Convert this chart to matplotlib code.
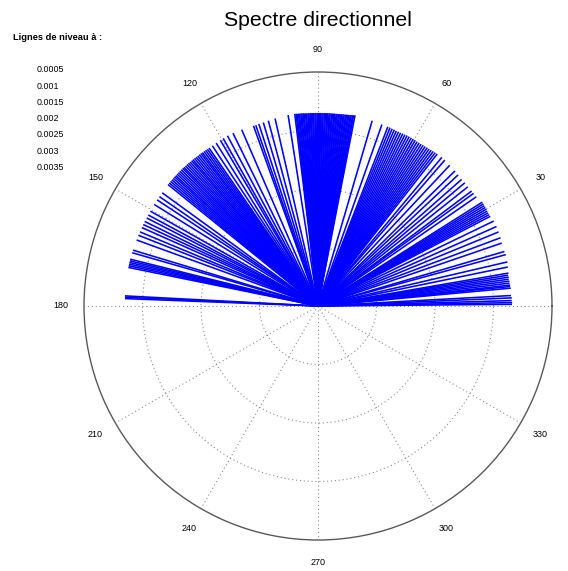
import numpy as np
import matplotlib
matplotlib.use("Agg")
import matplotlib.pyplot as plt

plt.rcParams['font.family'] = ['Liberation Sans', 'DejaVu Sans']

# ---------------- data ----------------
title = "Spectre directionnel"
legend_title = "Lignes de niveau à :"
levels = ["0.0005", "0.001", "0.0015", "0.002", "0.0025", "0.003", "0.0035"]
theta_labels = [30, 60, 90, 120, 150, 180, 210, 240, 270, 300, 330]
r_rings = [0.25, 0.5, 0.75]

# spoke directions (degrees) and lengths (fraction of outer circle), by sector
angles_east = [0.5, 1.0, 1.6, 2.4, 3.1, 5.3, 5.8, 6.2, 6.8, 7.4, 8.0, 8.6, 9.2, 9.8,
               11.6, 13.1, 15.3, 16.3, 18.9, 20.5, 22.3, 24.0, 25.8, 27.5, 28.1,
               28.7, 29.3, 29.9, 30.5, 31.1, 31.7, 32.3, 34.6]
radii_east = [0.829, 0.830, 0.828, 0.829, 0.826, 0.827, 0.825, 0.826, 0.824, 0.825,
              0.823, 0.824, 0.823, 0.826, 0.828, 0.831, 0.832, 0.830, 0.830, 0.833,
              0.834, 0.835, 0.834, 0.830, 0.829, 0.829, 0.829, 0.830, 0.830, 0.830,
              0.831, 0.831, 0.822]

angles_ne = [35.9, 36.8, 38.5, 40.0, 41.4, 43.1, 44.6, 46.9, 49.0, 50.2, 51.9, 52.6,
             53.3, 54.0, 54.7, 55.4, 56.1, 56.8, 57.5, 58.2, 58.9, 59.6, 60.3, 61.0,
             61.7, 62.4, 63.1, 63.8, 64.5, 65.2, 65.9, 66.6, 67.3, 68.0, 68.7, 70.6,
             73.7]
radii_ne = [0.821, 0.820, 0.818, 0.819, 0.818, 0.820, 0.822, 0.824, 0.826, 0.827,
            0.826, 0.825, 0.824, 0.823, 0.822, 0.822, 0.821, 0.821, 0.820, 0.820,
            0.820, 0.821, 0.821, 0.822, 0.822, 0.822, 0.821, 0.821, 0.820, 0.820,
            0.820, 0.821, 0.821, 0.822, 0.822, 0.822, 0.825]

angles_north = [79.0, 79.4, 79.7, 80.1, 80.4, 80.8, 81.1, 81.5, 81.8, 82.2, 82.5,
                82.9, 83.2, 83.6, 83.9, 84.3, 84.6, 85.0, 85.3, 85.7, 86.0, 86.4,
                86.7, 87.1, 87.4, 87.8, 88.1, 88.5, 88.8, 89.2, 89.5, 89.9, 90.2,
                90.6, 90.9, 91.3, 91.6, 92.0, 92.3, 92.7, 93.0, 93.4, 93.7, 94.1,
                94.4, 94.8, 95.1, 95.5, 95.8, 96.2, 96.5, 96.9]
radii_north = [0.830, 0.829, 0.829, 0.828, 0.828, 0.827, 0.827, 0.827, 0.826, 0.826,
               0.826, 0.826, 0.825, 0.825, 0.825, 0.825, 0.825, 0.825, 0.825, 0.825,
               0.825, 0.825, 0.825, 0.825, 0.825, 0.825, 0.825, 0.825, 0.825, 0.825,
               0.825, 0.825, 0.825, 0.825, 0.825, 0.825, 0.825, 0.825, 0.825, 0.825,
               0.825, 0.825, 0.825, 0.825, 0.826, 0.826, 0.826, 0.826, 0.826, 0.826,
               0.827, 0.827]

angles_nw = [98.9, 102.9, 105.0, 106.6, 108.0, 109.0, 109.7, 113.4, 116.2, 118.0,
             119.5, 120.5, 122.0, 123.4]
radii_nw = [0.826, 0.822, 0.820, 0.818, 0.818, 0.817, 0.818, 0.821, 0.823, 0.824,
            0.823, 0.822, 0.821, 0.820]

angles_west = [124.6, 125.2, 125.8, 126.4, 127.0, 127.5, 128.1, 128.7, 129.3, 129.9,
               130.5, 131.0, 131.6, 132.2, 132.8, 133.4, 134.0, 134.5, 135.1, 135.7,
               136.3, 136.9, 137.5, 138.0, 138.6, 139.2, 139.8, 140.4, 141.0]
radii_west = [0.820, 0.820, 0.821, 0.821, 0.821, 0.822, 0.822, 0.822, 0.822, 0.823,
              0.823, 0.823, 0.823, 0.824, 0.824, 0.824, 0.824, 0.825, 0.825, 0.825,
              0.825, 0.825, 0.825, 0.825, 0.825, 0.825, 0.825, 0.825, 0.825]

angles_wsw = [144.0, 145.4, 146.6, 148.2, 150.5, 151.8, 152.8, 154.0, 155.0, 156.0,
              157.4, 158.5, 160.0, 163.2, 164.0, 166.0, 166.5, 167.0, 167.5, 168.0,
              168.5]
radii_wsw = [0.823, 0.823, 0.824, 0.824, 0.823, 0.823, 0.823, 0.824, 0.824, 0.824,
             0.824, 0.825, 0.825, 0.826, 0.826, 0.827, 0.827, 0.827, 0.827, 0.827,
             0.827]

angles_far_west = [177.0, 177.4, 177.8]
radii_far_west = [0.826, 0.826, 0.825]

sectors = [(angles_east, radii_east), (angles_ne, radii_ne),
           (angles_north, radii_north), (angles_nw, radii_nw),
           (angles_west, radii_west), (angles_wsw, radii_wsw),
           (angles_far_west, radii_far_west)]

# ---------------- figure ----------------
W, H = 568, 571
fig = plt.figure(figsize=(W / 100, H / 100), dpi=100)

cx, cy, R = 318, 306, 234
ax = fig.add_axes([(cx - R) / W, (H - cy - R) / H, 2 * R / W, 2 * R / H],
                  projection='polar')
ax.set_ylim(0, 1)

grid_style = dict(color='0.55', linestyle=(0, (1, 2.5)), linewidth=0.8)
ax.set_thetagrids([0] + theta_labels, labels=[''] * (len(theta_labels) + 1))
ax.set_rgrids(r_rings, labels=[''] * len(r_rings))
ax.grid(True, **grid_style)
ax.spines['polar'].set_color('0.35')
ax.spines['polar'].set_linewidth(1.0)
ax.tick_params(length=0)

for angs, rads in sectors:
    for a, r in zip(angs, rads):
        t = np.deg2rad(a)
        ax.plot([t, t], [0, r], color='#0000ff', linewidth=1.15,
                solid_capstyle='butt')

for lab in theta_labels:
    ax.text(np.deg2rad(lab), 1.098, str(lab), ha='center', va='center',
            fontsize=6.5, color='black')

fig.text(cx / W, 1 - 20 / H, title, ha='center', va='center', fontsize=15.3)
fig.text(13 / W, 1 - 37 / H, legend_title, ha='left', va='center',
         fontsize=6.7, fontweight='bold')
for i, lv in enumerate(levels):
    fig.text(37 / W, 1 - (70 + i * 16.2) / H, lv, ha='left', va='center',
             fontsize=6.4)

fig.savefig('out.png', dpi=100)
